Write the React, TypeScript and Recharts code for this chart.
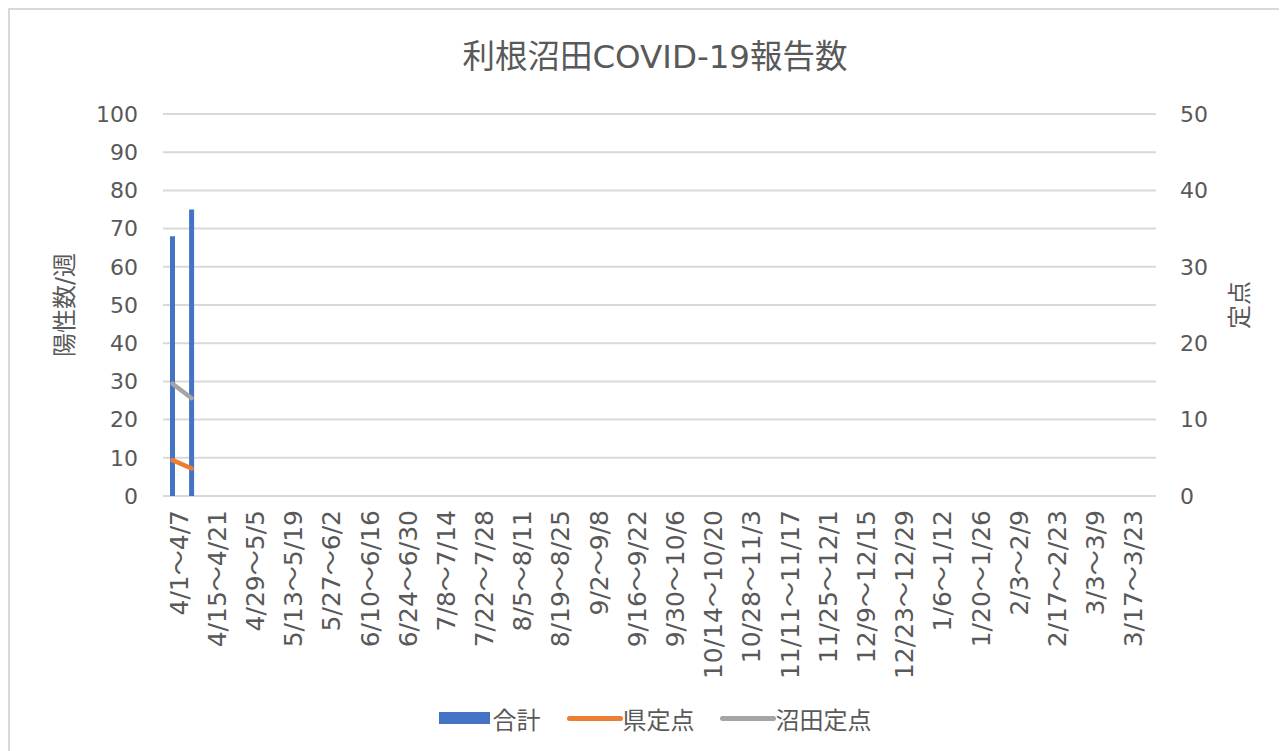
import * as React from 'react';
import {
  Bar,
  CartesianGrid,
  ComposedChart,
  Legend,
  Line,
  XAxis,
  YAxis,
} from 'recharts';

const WEEKS = [
  '4/1～4/7', '4/8～4/14', '4/15～4/21', '4/22～4/28', '4/29～5/5', '5/6～5/12',
  '5/13～5/19', '5/20～5/26', '5/27～6/2', '6/3～6/9', '6/10～6/16', '6/17～6/23',
  '6/24～6/30', '7/1～7/7', '7/8～7/14', '7/15～7/21', '7/22～7/28', '7/29～8/4',
  '8/5～8/11', '8/12～8/18', '8/19～8/25', '8/26～9/1', '9/2～9/8', '9/9～9/15',
  '9/16～9/22', '9/23～9/29', '9/30～10/6', '10/7～10/13', '10/14～10/20',
  '10/21～10/27', '10/28～11/3', '11/4～11/10', '11/11～11/17', '11/18～11/24',
  '11/25～12/1', '12/2～12/8', '12/9～12/15', '12/16～12/22', '12/23～12/29',
  '12/30～1/5', '1/6～1/12', '1/13～1/19', '1/20～1/26', '1/27～2/2', '2/3～2/9',
  '2/10～2/16', '2/17～2/23', '2/24～3/2', '3/3～3/9', '3/10～3/16', '3/17～3/23',
  '3/24～3/30',
];

// only the first two weeks are reported so far
const TOTAL = [68, 75];
const PREF_SENTINEL = [4.7, 3.6];
const NUMATA_SENTINEL = [14.7, 12.8];

const LEFT_TICKS = [0, 10, 20, 30, 40, 50, 60, 70, 80, 90, 100];
const RIGHT_TICKS = [0, 10, 20, 30, 40, 50];

const FONT = `"DejaVu Sans", "Noto Sans CJK JP", sans-serif`;
const TEXT_COLOR = '#595959';
const GRID_COLOR = '#d9d9d9';
const BAR_COLOR = '#4472C4';
const PREF_COLOR = '#ED7D31';
const NUMATA_COLOR = '#A5A5A5';

const data = WEEKS.map((week, i) => ({
  week,
  total: TOTAL[i] ?? null,
  pref: PREF_SENTINEL[i] ?? null,
  numata: NUMATA_SENTINEL[i] ?? null,
}));

const XTick = (props: any) => {
  const { x, payload } = props;
  const y = props.y + 14;
  return (
    <text
      x={x}
      y={y}
      dy={15}
      transform={`rotate(-90, ${x}, ${y})`}
      textAnchor="end"
      fill={TEXT_COLOR}
      fontSize={25}
      fontFamily={FONT}
    >
      {payload.value}
    </text>
  );
};

const AxisTitle = ({ viewBox, dx, text }: any) => {
  const cx = viewBox.x + dx;
  const cy = viewBox.y + viewBox.height / 2;
  return (
    <text
      x={cx}
      y={cy}
      transform={`rotate(-90, ${cx}, ${cy})`}
      textAnchor="middle"
      dominantBaseline="central"
      fill={TEXT_COLOR}
      fontSize={24}
      fontFamily={FONT}
    >
      {text}
    </text>
  );
};

const LegendContent = () => (
  <div
    style={{
      display: 'flex',
      justifyContent: 'center',
      alignItems: 'center',
      height: 30,
      fontSize: 24,
      color: TEXT_COLOR,
      fontFamily: FONT,
    }}
  >
    <span style={{ width: 51, height: 12, background: BAR_COLOR, marginRight: 3 }} />
    <span style={{ marginRight: 26 }}>合計</span>
    <span style={{ width: 56, height: 5, borderRadius: 3, background: PREF_COLOR }} />
    <span style={{ marginRight: 25 }}>県定点</span>
    <span style={{ width: 56, height: 5, borderRadius: 3, background: NUMATA_COLOR }} />
    <span>沼田定点</span>
  </div>
);

export default function App() {
  return (
    <div
      style={{
        position: 'relative',
        width: 1290,
        height: 745,
        border: `2px solid ${GRID_COLOR}`,
        background: '#fff',
      }}
    >
      <div
        style={{
          position: 'absolute',
          top: 30,
          left: 0,
          width: 1290,
          textAlign: 'center',
          fontSize: 32.5,
          lineHeight: '34px',
          color: TEXT_COLOR,
          fontFamily: FONT,
        }}
      >
        利根沼田COVID-19報告数
      </div>
      <ComposedChart
        width={1290}
        height={745}
        data={data}
        margin={{ top: 104, right: 0, bottom: 22, left: 0 }}
        barSize={5}
      >
        <CartesianGrid
          yAxisId="left"
          vertical={false}
          stroke={GRID_COLOR}
          strokeWidth={2}
        />
        <XAxis
          dataKey="week"
          interval={1}
          height={207}
          axisLine={false}
          tickLine={false}
          tickSize={0}
          tickMargin={0}
          tick={<XTick />}
        />
        <YAxis
          yAxisId="left"
          domain={[0, 100]}
          ticks={LEFT_TICKS}
          width={153}
          axisLine={false}
          tickLine={false}
          tickSize={0}
          tickMargin={25}
          tick={{ fill: TEXT_COLOR, fontSize: 22, fontFamily: FONT }}
          label={{ content: (p: any) => <AxisTitle {...p} dx={55} text="陽性数/週" /> }}
        />
        <YAxis
          yAxisId="right"
          orientation="right"
          domain={[0, 50]}
          ticks={RIGHT_TICKS}
          width={144}
          axisLine={false}
          tickLine={false}
          tickSize={0}
          tickMargin={24}
          tick={{ fill: TEXT_COLOR, fontSize: 22, fontFamily: FONT, textAnchor: 'start' }}
          label={{ content: (p: any) => <AxisTitle {...p} dx={84} text="定点" /> }}
        />
        <Legend verticalAlign="bottom" content={<LegendContent />} />
        <Bar
          yAxisId="left"
          dataKey="total"
          name="合計"
          fill={BAR_COLOR}
          isAnimationActive={false}
        />
        <Line
          yAxisId="right"
          dataKey="pref"
          name="県定点"
          type="linear"
          stroke={PREF_COLOR}
          strokeWidth={4.5}
          strokeLinecap="round"
          dot={false}
          activeDot={false}
          isAnimationActive={false}
        />
        <Line
          yAxisId="right"
          dataKey="numata"
          name="沼田定点"
          type="linear"
          stroke={NUMATA_COLOR}
          strokeWidth={4.5}
          strokeLinecap="round"
          dot={false}
          activeDot={false}
          isAnimationActive={false}
        />
      </ComposedChart>
    </div>
  );
}
